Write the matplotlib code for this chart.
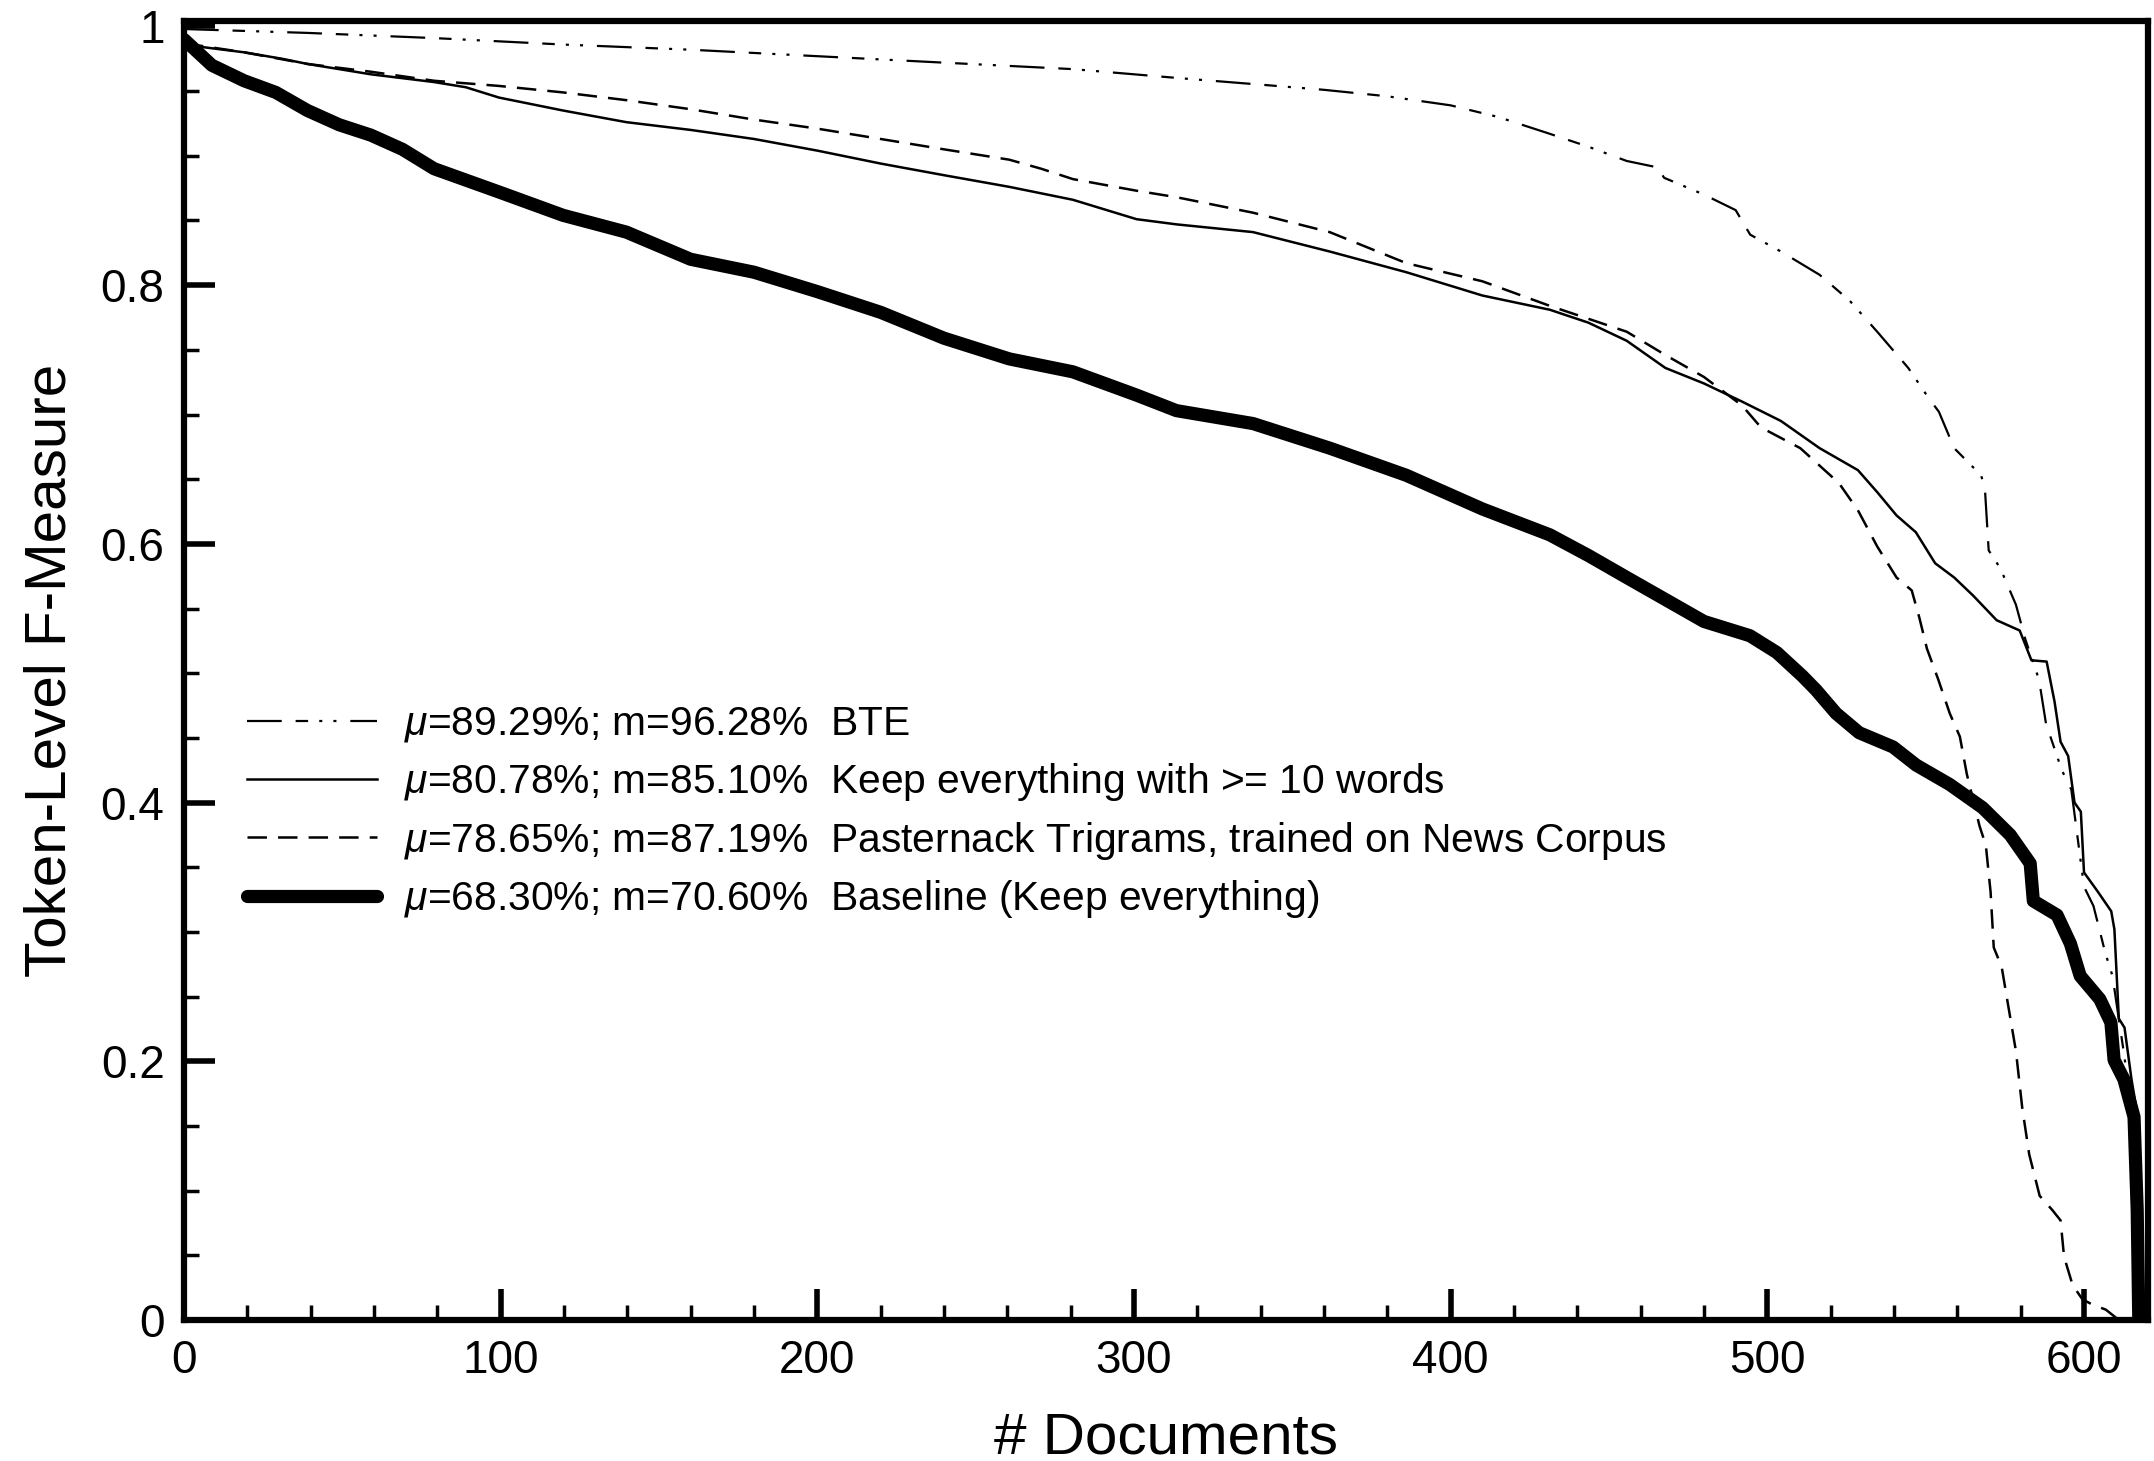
#Token-level F-measure of each document, sorted, for four boilerplate removal methods.

import matplotlib
matplotlib.use('Agg')
import matplotlib.pyplot as plt
from matplotlib.ticker import MultipleLocator, FuncFormatter

plt.rcParams['font.family'] = ['Liberation Sans', 'DejaVu Sans']
plt.rcParams['mathtext.fontset'] = 'custom'
plt.rcParams['mathtext.rm'] = 'Liberation Sans'
plt.rcParams['mathtext.it'] = 'Liberation Sans:italic'
plt.rcParams['lines.scale_dashes'] = False

#Legend labels
labels = [r'$\mu$=89.29%; m=96.28%  BTE',
          r'$\mu$=80.78%; m=85.10%  Keep everything with >= 10 words',
          r'$\mu$=78.65%; m=87.19%  Pasternack Trigrams, trained on News Corpus',
          r'$\mu$=68.30%; m=70.60%  Baseline (Keep everything)']

#BTE (dash-dot)
bte_x = [0, 39, 79, 119.7, 160, 200, 240, 280.7, 314.5, 340, 360, 380, 400, 415, 431.3, 443.5,
         455.6, 465.4, 467.4, 480, 490, 494.6, 504.3, 516.5, 526, 534.7, 544.5, 550.6, 554.2,
         559, 567.5, 568.7, 569.9, 573.6, 578.5, 581.5, 585.8, 588, 593, 596, 600, 603, 606.7,
         609, 611.4, 612.5, 615, 617.5, 618]
bte_y = [0.998, 0.995, 0.991, 0.986, 0.982, 0.977, 0.972, 0.967, 0.960, 0.955, 0.951, 0.946,
         0.939, 0.930, 0.917, 0.907, 0.896, 0.891, 0.883, 0.870, 0.858, 0.839, 0.826, 0.808,
         0.788, 0.764, 0.736, 0.714, 0.702, 0.674, 0.653, 0.643, 0.595, 0.581, 0.553, 0.526,
         0.495, 0.461, 0.425, 0.410, 0.335, 0.320, 0.284, 0.266, 0.226, 0.208, 0.164, 0.10, 0.0]

#Keep everything with >= 10 words (solid)
keep_x = [0, 6, 19, 31, 39, 59, 79, 89, 99.5, 119.7, 139.7, 160, 180, 200, 220, 240, 260.6,
          280.7, 300.8, 313.4, 337.6, 361.8, 386, 410, 431.3, 443.5, 455.6, 467.8, 480, 492,
          504.3, 516.5, 528.6, 534.7, 540.8, 546.9, 553, 559, 565, 572.4, 579.7, 583.4, 588.2,
          590.7, 592.6, 595, 597, 599, 600, 604.4, 608.6, 609.6, 611, 612.8, 615, 617, 618.5]
keep_y = [0.987, 0.984, 0.980, 0.975, 0.971, 0.963, 0.957, 0.953, 0.945, 0.935, 0.926, 0.920,
          0.913, 0.904, 0.894, 0.885, 0.876, 0.866, 0.851, 0.847, 0.841, 0.826, 0.810, 0.792,
          0.781, 0.771, 0.757, 0.736, 0.724, 0.710, 0.695, 0.674, 0.657, 0.640, 0.622, 0.609,
          0.585, 0.574, 0.560, 0.541, 0.533, 0.510, 0.509, 0.478, 0.447, 0.436, 0.400, 0.393,
          0.346, 0.331, 0.316, 0.302, 0.233, 0.226, 0.186, 0.157, 0.0]

#Pasternack Trigrams (dashed)
past_x = [0, 19, 39, 59, 79, 99.5, 119.7, 139.7, 160, 180, 200, 220, 240, 260.6, 270.7, 280.7,
          300.8, 313.4, 337.6, 361.8, 386, 410, 431.3, 443.5, 455.6, 467.8, 480, 492, 498,
          510.4, 522.6, 528.6, 534.7, 540.8, 545.6, 548, 550.4, 554, 557.6, 560.8, 563, 567,
          569, 570.5, 571.5, 574, 576, 578.5, 580.5, 582.7, 586, 590, 592.6, 593.7, 596.4,
          599.5, 602.6, 606.9, 611]
past_y = [0.987, 0.980, 0.971, 0.965, 0.958, 0.954, 0.949, 0.943, 0.936, 0.928, 0.921, 0.913,
          0.905, 0.897, 0.890, 0.882, 0.873, 0.868, 0.856, 0.841, 0.817, 0.803, 0.784, 0.774,
          0.764, 0.746, 0.729, 0.707, 0.690, 0.674, 0.647, 0.626, 0.598, 0.574, 0.564, 0.543,
          0.519, 0.495, 0.469, 0.451, 0.422, 0.382, 0.367, 0.331, 0.288, 0.273, 0.244, 0.208,
          0.164, 0.128, 0.096, 0.085, 0.077, 0.049, 0.027, 0.016, 0.012, 0.008, 0.0]

#Baseline (thick)
base_x = [0, 8.8, 19, 29, 39, 49, 59, 69, 79, 99.5, 119.7, 139.7, 160, 180, 200, 220, 240,
          260.6, 280.7, 300.8, 313.4, 337.6, 361.8, 386, 410, 431.3, 443.5, 455.6, 467.8, 480,
          494.5, 503, 511, 515.4, 521.7, 529, 539.7, 547, 557.6, 568, 576.7, 583, 584, 591.5,
          595.7, 598.8, 605, 608.5, 609.5, 612.6, 615.8, 616.8, 617.3]
base_y = [0.99, 0.970, 0.958, 0.949, 0.935, 0.924, 0.916, 0.905, 0.890, 0.872, 0.854, 0.841,
          0.820, 0.810, 0.795, 0.779, 0.759, 0.743, 0.733, 0.715, 0.703, 0.693, 0.674, 0.653,
          0.627, 0.607, 0.591, 0.574, 0.557, 0.540, 0.529, 0.516, 0.498, 0.487, 0.469, 0.454,
          0.443, 0.429, 0.414, 0.396, 0.375, 0.353, 0.324, 0.313, 0.291, 0.266, 0.248, 0.230,
          0.201, 0.186, 0.157, 0.085, 0.0]

fig = plt.figure(figsize=(21.54, 14.61), dpi=100)
ax = fig.add_axes([0.0854, 0.0965, 0.9118, 0.8893])

ax.plot(bte_x, bte_y, color='black', lw=1.6,
        dashes=(25, 10, 9, 8, 2.2, 8, 2.2, 10), label=labels[0])
ax.plot(keep_x, keep_y, color='black', lw=1.8, label=labels[1])
ax.plot(past_x, past_y, color='black', lw=1.8, dashes=(14, 8), label=labels[2])
ax.plot(base_x, base_y, color='black', lw=9.5, solid_capstyle='round',
        solid_joinstyle='round', label=labels[3])

ax.set_xlim(0, 620.2)
ax.set_ylim(0, 1.0044)

ax.xaxis.set_major_locator(MultipleLocator(100))
ax.xaxis.set_minor_locator(MultipleLocator(20))
ax.yaxis.set_major_locator(MultipleLocator(0.2))
ax.yaxis.set_minor_locator(MultipleLocator(0.05))
ax.yaxis.set_major_formatter(FuncFormatter(lambda v, p: '%g' % round(v, 2)))

ax.tick_params(which='major', direction='in', length=22, width=4, labelsize=33, pad=14)
ax.tick_params(which='minor', direction='in', length=11, width=2.5)
ax.tick_params(top=False, right=False)
for s in ax.spines.values():
    s.set_linewidth(4.5)

ax.set_xlabel('# Documents', fontsize=42, labelpad=20)
ax.set_ylabel('Token-Level F-Measure', fontsize=42, labelpad=17)

ax.legend(loc='upper left', bbox_to_anchor=(0.1147, 0.5176), bbox_transform=fig.transFigure,
          frameon=False, fontsize=29.3, handlelength=3.2, handletextpad=0.66,
          labelspacing=0.41, borderpad=0, borderaxespad=0)

fig.savefig('out.png', dpi=100)
